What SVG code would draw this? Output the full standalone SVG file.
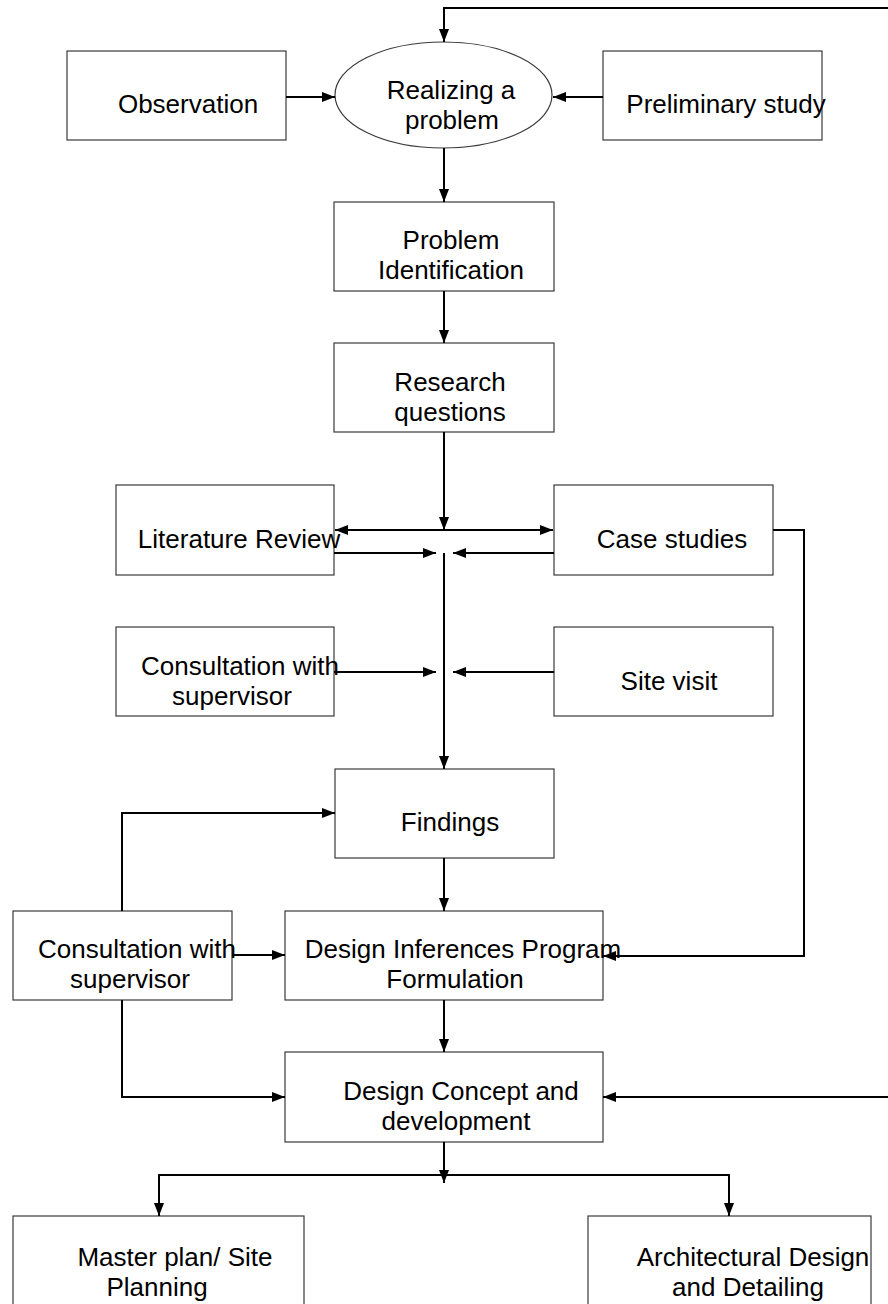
<svg xmlns="http://www.w3.org/2000/svg" width="888" height="1304" viewBox="0 0 888 1304">
<style>
.box{fill:#fff;stroke:#3a3a3a;stroke-width:1.2}
.t{font-family:"Liberation Sans",Arial,sans-serif;font-size:26px;fill:#000;text-anchor:middle}
.c{fill:none;stroke:#000;stroke-width:2}
.a{marker-end:url(#ah)}
</style>
<defs>
<marker id="ah" markerUnits="userSpaceOnUse" markerWidth="13" markerHeight="10" refX="13" refY="5" orient="auto">
<path d="M0,0 L13,5 L0,10 z" fill="#000"/>
</marker>
<marker id="as" markerUnits="userSpaceOnUse" markerWidth="13" markerHeight="10" refX="13" refY="5" orient="auto-start-reverse">
<path d="M0,0 L13,5 L0,10 z" fill="#000"/>
</marker>
</defs>

<g id="observation"><rect class="box" x="67" y="51" width="219" height="89"/><text class="t" x="188" y="113">Observation</text></g>
<g id="realizing"><ellipse class="box" cx="443.5" cy="95" rx="108.5" ry="53"/><text class="t" x="451" y="99">Realizing a</text><text class="t" x="452" y="129">problem</text></g>
<g id="preliminary"><rect class="box" x="603" y="51" width="219" height="89"/><text class="t" x="726" y="113">Preliminary study</text></g>
<g id="problem-identification"><rect class="box" x="334" y="202" width="220" height="89"/><text class="t" x="451" y="249">Problem</text><text class="t" x="451" y="279">Identification</text></g>
<g id="research-questions"><rect class="box" x="334" y="343" width="220" height="89"/><text class="t" x="450" y="391">Research</text><text class="t" x="450" y="421">questions</text></g>
<g id="literature-review"><rect class="box" x="116" y="485" width="218" height="90"/><text class="t" x="239" y="548">Literature Review</text></g>
<g id="case-studies"><rect class="box" x="554" y="485" width="219" height="90"/><text class="t" x="672" y="548">Case studies</text></g>
<g id="consultation-1"><rect class="box" x="116" y="627" width="218" height="89"/><text class="t" x="240" y="675">Consultation with</text><text class="t" x="232" y="705">supervisor</text></g>
<g id="site-visit"><rect class="box" x="554" y="627" width="219" height="89"/><text class="t" x="669" y="690">Site visit</text></g>
<g id="findings"><rect class="box" x="335" y="769" width="219" height="89"/><text class="t" x="450" y="831">Findings</text></g>
<g id="consultation-2"><rect class="box" x="13" y="911" width="219" height="89"/><text class="t" x="137" y="958">Consultation with</text><text class="t" x="130" y="988">supervisor</text></g>
<g id="design-inferences"><rect class="box" x="285" y="911" width="318" height="89"/><text class="t" x="463" y="958">Design Inferences Program</text><text class="t" x="455" y="988">Formulation</text></g>
<g id="design-concept"><rect class="box" x="285" y="1052" width="318" height="90"/><text class="t" x="461" y="1100">Design Concept and</text><text class="t" x="456" y="1130">development</text></g>
<g id="master-plan"><rect class="box" x="13" y="1216" width="291" height="100"/><text class="t" x="175" y="1266">Master plan/ Site</text><text class="t" x="157" y="1296">Planning</text></g>
<g id="architectural-design"><rect class="box" x="588" y="1216" width="283" height="100"/><text class="t" x="753" y="1266">Architectural Design</text><text class="t" x="748" y="1296">and Detailing</text></g>

<g id="connectors">
<polyline class="c a" points="888,8 444,8 444,42"/>
<line class="c a" x1="286" y1="97" x2="335" y2="97"/>
<line class="c a" x1="603" y1="97" x2="553" y2="97"/>
<line class="c a" x1="444" y1="148" x2="444" y2="202"/>
<line class="c a" x1="444" y1="291" x2="444" y2="343"/>
<line class="c a" x1="444" y1="432" x2="444" y2="530"/>
<line class="c a" x1="335" y1="530" x2="553" y2="530" marker-start="url(#as)"/>
<line class="c a" x1="334" y1="553" x2="436" y2="553"/>
<line class="c a" x1="554" y1="553" x2="453" y2="553"/>
<line class="c a" x1="444" y1="553" x2="444" y2="769"/>
<line class="c a" x1="334" y1="672" x2="436" y2="672"/>
<line class="c a" x1="554" y1="672" x2="453" y2="672"/>
<polyline class="c a" points="773,530 804,530 804,956 603,956"/>
<polyline class="c a" points="122,911 122,813 335,813"/>
<line class="c a" x1="232" y1="955" x2="285" y2="955"/>
<line class="c a" x1="444" y1="858" x2="444" y2="911"/>
<polyline class="c a" points="122,1000 122,1097 285,1097"/>
<line class="c a" x1="444" y1="1000" x2="444" y2="1052"/>
<line class="c a" x1="888" y1="1097" x2="603" y2="1097"/>
<line class="c a" x1="444" y1="1142" x2="444" y2="1183"/>
<polyline class="c a" points="159,1216 159,1175 729,1175 729,1216" style="marker-end:url(#ah);marker-start:url(#as)"/>
</g>
</svg>
